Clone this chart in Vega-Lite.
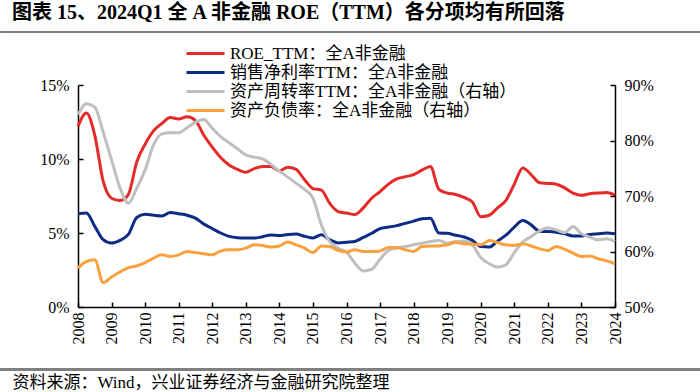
{
  "$schema": "https://vega.github.io/schema/vega-lite/v6.json",
  "width": 537,
  "height": 222,
  "autosize": {"type": "none"},
  "padding": {"left": 78, "top": 85, "right": 85, "bottom": 85},
  "background": "white",
  "config": {
    "view": {"stroke": null},
    "font": "Liberation Serif, Noto Sans CJK SC",
    "axis": {
      "labelFont": "Liberation Serif",
      "labelFontSize": 16,
      "labelColor": "#000000",
      "domainColor": "#000000",
      "domainWidth": 1.5,
      "tickColor": "#000000",
      "tickWidth": 1.5,
      "tickSize": -5,
      "grid": false
    }
  },
  "title": {
    "text": "图表 15、2024Q1 全 A 非金融 ROE（TTM）各分项均有所回落",
    "anchor": "start",
    "frame": "group",
    "dx": -66,
    "offset": 8,
    "font": "Liberation Serif, Noto Sans CJK SC",
    "fontSize": 20,
    "fontWeight": "bold",
    "color": "#000000"
  },
  "data": {
    "values": [
      {"t": 2008.0, "roe": 12.2, "npm": 6.3, "tat": 84.6, "dar": 57.0},
      {"t": 2008.25, "roe": 13.1, "npm": 6.35, "tat": 86.6, "dar": 58.2},
      {"t": 2008.5, "roe": 11.6, "npm": 5.45, "tat": 86.0, "dar": 58.5},
      {"t": 2008.75, "roe": 8.5, "npm": 4.55, "tat": 81.5, "dar": 54.4},
      {"t": 2009.0, "roe": 7.35, "npm": 4.32, "tat": 76.5, "dar": 55.4},
      {"t": 2009.25, "roe": 7.2, "npm": 4.5, "tat": 71.5, "dar": 56.3},
      {"t": 2009.5, "roe": 7.6, "npm": 4.9, "tat": 68.7, "dar": 57.1},
      {"t": 2009.75, "roe": 9.8, "npm": 6.05, "tat": 71.4, "dar": 57.4},
      {"t": 2010.0, "roe": 11.0, "npm": 6.27, "tat": 74.7, "dar": 58.0},
      {"t": 2010.25, "roe": 11.9, "npm": 6.2, "tat": 79.2, "dar": 58.8},
      {"t": 2010.5, "roe": 12.4, "npm": 6.15, "tat": 81.2, "dar": 59.4},
      {"t": 2010.75, "roe": 12.8, "npm": 6.38, "tat": 81.4, "dar": 59.1},
      {"t": 2011.0, "roe": 12.7, "npm": 6.3, "tat": 81.4, "dar": 59.4},
      {"t": 2011.25, "roe": 12.85, "npm": 6.2, "tat": 82.3, "dar": 60.0},
      {"t": 2011.5, "roe": 12.6, "npm": 6.0, "tat": 83.3, "dar": 59.8},
      {"t": 2011.75, "roe": 11.6, "npm": 5.6, "tat": 83.8, "dar": 59.6},
      {"t": 2012.0, "roe": 10.8, "npm": 5.3, "tat": 82.2, "dar": 59.4},
      {"t": 2012.25, "roe": 10.1, "npm": 5.0, "tat": 80.7, "dar": 60.1},
      {"t": 2012.5, "roe": 9.6, "npm": 4.77, "tat": 79.6, "dar": 60.3},
      {"t": 2012.75, "roe": 9.3, "npm": 4.68, "tat": 78.5, "dar": 60.3},
      {"t": 2013.0, "roe": 9.1, "npm": 4.66, "tat": 77.4, "dar": 60.6},
      {"t": 2013.25, "roe": 9.35, "npm": 4.66, "tat": 77.0, "dar": 61.2},
      {"t": 2013.5, "roe": 9.5, "npm": 4.75, "tat": 76.7, "dar": 61.1},
      {"t": 2013.75, "roe": 9.5, "npm": 4.87, "tat": 75.7, "dar": 60.8},
      {"t": 2014.0, "roe": 9.2, "npm": 4.83, "tat": 74.5, "dar": 61.0},
      {"t": 2014.25, "roe": 9.45, "npm": 4.9, "tat": 73.4, "dar": 61.7},
      {"t": 2014.5, "roe": 9.3, "npm": 4.93, "tat": 72.3, "dar": 61.2},
      {"t": 2014.75, "roe": 8.6, "npm": 4.78, "tat": 71.2, "dar": 60.6},
      {"t": 2015.0, "roe": 8.0, "npm": 4.66, "tat": 69.6, "dar": 59.8},
      {"t": 2015.25, "roe": 7.9, "npm": 4.88, "tat": 64.8, "dar": 61.0},
      {"t": 2015.5, "roe": 7.0, "npm": 4.55, "tat": 61.8, "dar": 60.9},
      {"t": 2015.75, "roe": 6.45, "npm": 4.33, "tat": 60.6, "dar": 60.2},
      {"t": 2016.0, "roe": 6.35, "npm": 4.38, "tat": 59.9, "dar": 59.9},
      {"t": 2016.25, "roe": 6.25, "npm": 4.43, "tat": 57.9, "dar": 60.3},
      {"t": 2016.5, "roe": 6.7, "npm": 4.7, "tat": 56.5, "dar": 60.0},
      {"t": 2016.75, "roe": 7.35, "npm": 4.98, "tat": 56.8, "dar": 60.0},
      {"t": 2017.0, "roe": 7.8, "npm": 5.3, "tat": 58.6, "dar": 60.1},
      {"t": 2017.25, "roe": 8.3, "npm": 5.4, "tat": 60.2, "dar": 60.7},
      {"t": 2017.5, "roe": 8.65, "npm": 5.5, "tat": 60.6, "dar": 60.7},
      {"t": 2017.75, "roe": 8.8, "npm": 5.65, "tat": 60.9, "dar": 60.3},
      {"t": 2018.0, "roe": 8.95, "npm": 5.8, "tat": 61.2, "dar": 60.0},
      {"t": 2018.25, "roe": 9.25, "npm": 5.97, "tat": 61.5, "dar": 60.9},
      {"t": 2018.5, "roe": 9.5, "npm": 6.0, "tat": 61.8, "dar": 61.0},
      {"t": 2018.75, "roe": 7.95, "npm": 5.0, "tat": 62.0, "dar": 61.0},
      {"t": 2019.0, "roe": 7.7, "npm": 4.98, "tat": 61.5, "dar": 61.2},
      {"t": 2019.25, "roe": 7.6, "npm": 4.85, "tat": 61.8, "dar": 61.6},
      {"t": 2019.5, "roe": 7.4, "npm": 4.73, "tat": 61.9, "dar": 61.4},
      {"t": 2019.75, "roe": 7.1, "npm": 4.5, "tat": 61.2, "dar": 61.3},
      {"t": 2020.0, "roe": 6.1, "npm": 4.08, "tat": 58.9, "dar": 61.2},
      {"t": 2020.25, "roe": 6.2, "npm": 4.05, "tat": 57.8, "dar": 62.0},
      {"t": 2020.5, "roe": 6.7, "npm": 4.45, "tat": 57.2, "dar": 61.6},
      {"t": 2020.75, "roe": 7.2, "npm": 4.85, "tat": 57.6, "dar": 61.2},
      {"t": 2021.0, "roe": 8.3, "npm": 5.4, "tat": 59.8, "dar": 61.1},
      {"t": 2021.25, "roe": 9.4, "npm": 5.84, "tat": 61.7, "dar": 61.4},
      {"t": 2021.5, "roe": 8.95, "npm": 5.55, "tat": 62.7, "dar": 61.0},
      {"t": 2021.75, "roe": 8.4, "npm": 5.12, "tat": 63.7, "dar": 60.5},
      {"t": 2022.0, "roe": 8.35, "npm": 5.1, "tat": 64.3, "dar": 60.2},
      {"t": 2022.25, "roe": 8.3, "npm": 5.05, "tat": 63.9, "dar": 60.9},
      {"t": 2022.5, "roe": 8.05, "npm": 4.95, "tat": 63.4, "dar": 60.4},
      {"t": 2022.75, "roe": 7.7, "npm": 4.8, "tat": 64.5, "dar": 59.7},
      {"t": 2023.0, "roe": 7.55, "npm": 4.8, "tat": 63.2, "dar": 59.1},
      {"t": 2023.25, "roe": 7.65, "npm": 4.9, "tat": 62.6, "dar": 59.2},
      {"t": 2023.5, "roe": 7.7, "npm": 4.95, "tat": 62.1, "dar": 58.7},
      {"t": 2023.75, "roe": 7.73, "npm": 5.0, "tat": 62.3, "dar": 58.3},
      {"t": 2024.0, "roe": 7.55, "npm": 4.95, "tat": 61.8, "dar": 57.8}
    ]
  },
  "encoding": {
    "x": {
      "field": "t",
      "type": "quantitative",
      "scale": {"domain": [2008, 2024], "nice": false, "zero": false},
      "axis": {
        "values": [2008, 2009, 2010, 2011, 2012, 2013, 2014, 2015, 2016, 2017, 2018, 2019, 2020, 2021, 2022, 2023, 2024],
        "format": "d",
        "labelAngle": -90,
        "labelPadding": 10,
        "title": "资料来源：Wind，兴业证券经济与金融研究院整理",
        "titleFont": "Liberation Serif, Noto Sans CJK SC",
        "titleFontSize": 17,
        "titleFontWeight": "normal",
        "titleColor": "#000000",
        "titleAnchor": "start",
        "titleAlign": "left",
        "titleBaseline": "middle",
        "titleX": -66,
        "titleY": 75
      }
    }
  },
  "layer": [
    {
      "layer": [
        {
          "transform": [{"fold": ["roe", "npm"], "as": ["k", "v"]}],
          "mark": {"type": "line", "interpolate": "monotone", "strokeWidth": 3},
          "encoding": {
            "y": {
              "field": "v",
              "type": "quantitative",
              "scale": {"domain": [0, 15], "nice": false},
              "axis": {
                "values": [0, 5, 10, 15],
                "labelExpr": "datum.value + '%'",
                "labelPadding": 14,
                "title": null
              }
            },
            "color": {
              "field": "k",
              "type": "nominal",
              "sort": ["roe", "npm", "tat", "dar"],
              "scale": {
                "domain": ["roe", "npm", "tat", "dar"],
                "range": ["#E52A2A", "#0C2D83", "#BFBFBF", "#F9A03F"]
              },
              "legend": {
                "orient": "none",
                "legendX": 107,
                "legendY": -41,
                "direction": "vertical",
                "title": null,
                "symbolType": "stroke",
                "symbolSize": 1444,
                "symbolStrokeWidth": 3,
                "clipHeight": 19,
                "rowPadding": 0,
                "labelOffset": 4,
                "labelFont": "Liberation Serif, Noto Sans CJK SC",
                "labelFontSize": 17,
                "labelColor": "#000000",
                "labelLimit": 400,
                "labelExpr": "datum.value == 'roe' ? 'ROE_TTM：全A非金融' : datum.value == 'npm' ? '销售净利率TTM：全A非金融' : datum.value == 'tat' ? '资产周转率TTM：全A非金融（右轴）' : '资产负债率：全A非金融（右轴）'"
              }
            }
          }
        },
        {
          "mark": {"type": "rule", "color": "#808080", "strokeWidth": 1.5},
          "encoding": {
            "x": {"datum": 2005.68},
            "x2": {"datum": 2026.53},
            "y": {"datum": 18.6}
          }
        },
        {
          "mark": {"type": "rule", "color": "#808080", "strokeWidth": 1.5},
          "encoding": {
            "x": {"datum": 2005.68},
            "x2": {"datum": 2026.53},
            "y": {"datum": -4.23}
          }
        }
      ]
    },
    {
      "transform": [{"fold": ["tat", "dar"], "as": ["k", "v"]}],
      "mark": {"type": "line", "interpolate": "monotone", "strokeWidth": 3},
      "encoding": {
        "y": {
          "field": "v",
          "type": "quantitative",
          "scale": {"domain": [50, 90], "nice": false, "zero": false},
          "axis": {
            "orient": "right",
            "values": [50, 60, 70, 80, 90],
            "labelExpr": "datum.value + '%'",
            "labelPadding": 14,
            "title": null
          }
        },
        "color": {"field": "k", "type": "nominal"}
      }
    }
  ],
  "resolve": {"scale": {"y": "independent"}}
}
